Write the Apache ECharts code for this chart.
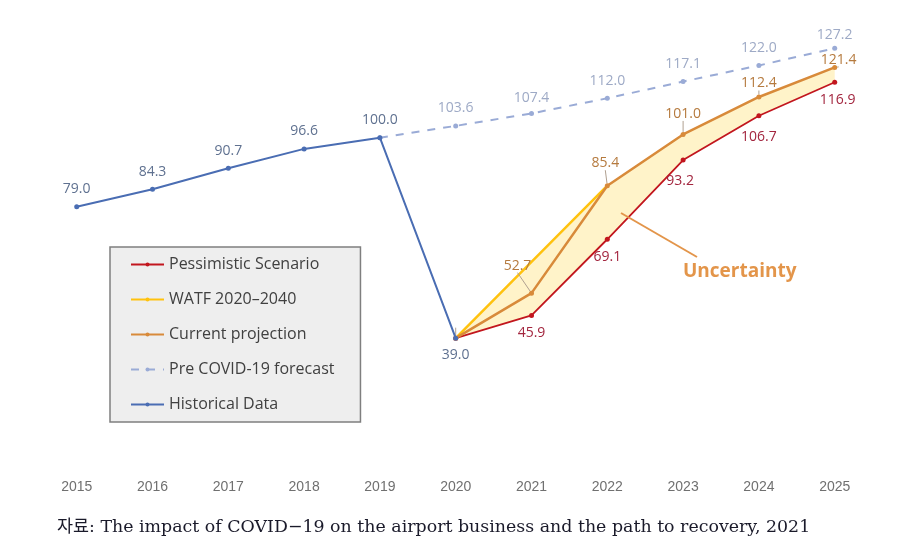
<!DOCTYPE html>
<html>
<head>
<meta charset="utf-8">
<script src="https://cdn.jsdelivr.net/npm/echarts@6/dist/echarts.min.js"></script>
<style>
html,body{margin:0;padding:0;background:#fff;}
#c{width:923px;height:553px;}
</style>
</head>
<body>
<div id="c"></div>
<script>
var years = ['2015','2016','2017','2018','2019','2020','2021','2022','2023','2024','2025'];
var historical = [79.0, 84.3, 90.7, 96.6, 100.0, 39.0, null, null, null, null, null];
var preCovid = [null, null, null, null, 100.0, 103.6, 107.4, 112.0, 117.1, 122.0, 127.2];
var pessimistic = [null, null, null, null, null, 39.0, 45.9, 69.1, 93.2, 106.7, 116.9];
var watf = [null, null, null, null, null, 39.0, 62.2, 85.4, null, null, null];
var current = [null, null, null, null, null, 39.0, 52.7, 85.4, 101.0, 112.4, 121.4];
var legendNames = ['Pessimistic Scenario', 'WATF 2020\u20132040', 'Current projection', 'Pre COVID-19 forecast', 'Historical Data'];
var caption = '\uC790\uB8CC: The impact of COVID\u221219 on the airport business and the path to recovery, 2021';

// band between upper envelope and pessimistic
var bandBase = pessimistic.map(function(v){ return v == null ? '-' : v; });
var bandHeight = pessimistic.map(function(v, i){
  if (v == null) return '-';
  var up = current[i];
  if (watf[i] != null && watf[i] > up) up = watf[i];
  return +(up - v).toFixed(2);
});
function d(a){ return a.map(function(v){ return v == null ? '-' : v; }); }

var F = 'Open Sans';
var cBlue = '#4a6db3', cPre = '#9aabd6', cRed = '#c2161e', cYel = '#ffc20e', cOra = '#d88a3a';

var chart = echarts.init(document.getElementById('c'), null, {renderer:'canvas'});
var option = {
  backgroundColor: '#fff',
  animation: false,
  grid: {left: 76.7, width: 758, top: 6.3, height: 460, containLabel: false},
  xAxis: {
    type: 'category', data: years, boundaryGap: false,
    axisLine: {show: false}, axisTick: {show: false}, splitLine: {show: false},
    axisLabel: {color: '#707070', fontSize: 14, fontFamily: 'Liberation Sans', margin: 14}
  },
  yAxis: {
    type: 'value', min: 0, max: 140, show: false
  },
  legend: {
    orient: 'vertical', left: 110, top: 247,
    data: legendNames,
    itemWidth: 33, itemHeight: 5, itemGap: 18,
    backgroundColor: '#eeeeee', borderColor: '#7f7f7f', borderWidth: 1.5,
    padding: [9, 26, 9, 20],
    textStyle: {fontFamily: F, fontSize: 16, color: '#404040', lineHeight: 17},
    selectedMode: false
  },
  series: [
    {name: 'bandBase', type: 'line', stack: 'band', data: bandBase, symbol: 'none',
     lineStyle: {opacity: 0}, silent: true, z: 1},
    {name: 'band', type: 'line', stack: 'band', data: bandHeight, symbol: 'none',
     lineStyle: {opacity: 0}, areaStyle: {color: '#fff3c9', opacity: 1}, silent: true, z: 1},
    {name: legendNames[1], type: 'line', data: d(watf), symbol: 'none', z: 3,
     lineStyle: {color: cYel, width: 2.5}, itemStyle: {color: cYel}},
    {name: legendNames[0], type: 'line', data: d(pessimistic), symbol: 'circle', symbolSize: 5, z: 4,
     lineStyle: {color: cRed, width: 1.8}, itemStyle: {color: cRed},
     label: {show: true, position: 'bottom', distance: 8, color: '#a3263f', fontFamily: F, fontSize: 14,
       formatter: function(p){ return p.dataIndex === 5 ? '' : p.value.toFixed(1); }},
     labelLayout: function(p){
       var i = p.dataIndex;
       if (i === 8) return {dx: -3, dy: 3};
       if (i === 9) return {dy: 4};
       if (i === 10) return {dx: 3};
       return {};
     }},
    {name: legendNames[2], type: 'line', data: d(current), symbol: 'circle', symbolSize: 5, z: 5,
     lineStyle: {color: cOra, width: 2.5}, itemStyle: {color: cOra},
     label: {show: true, position: 'top', distance: 8, color: '#b57a3e', fontFamily: F, fontSize: 14,
       formatter: function(p){ return p.dataIndex === 5 ? '' : p.value.toFixed(1); }},
     labelLine: {show: true, lineStyle: {color: '#b0a090', width: 1}},
     labelLayout: function(p){
       var i = p.dataIndex;
       if (i === 6) return {dx: -14, dy: -10};
       if (i === 7) return {dx: -2, dy: -5};
       if (i === 8) return {dx: 0, dy: -3};
       if (i === 9) return {dx: 0, dy: 4};
       if (i === 10) return {dx: 4, dy: 10};
       return {};
     }},
    {name: legendNames[3], type: 'line', data: d(preCovid), symbol: 'circle', symbolSize: 5, z: 2,
     lineStyle: {color: cPre, width: 2, type: [8, 8]}, itemStyle: {color: cPre},
     label: {show: true, position: 'top', distance: 8, color: '#9eaac6', fontFamily: F, fontSize: 14,
       formatter: function(p){ return p.dataIndex === 4 ? '' : p.value.toFixed(1); }},
     labelLayout: function(p){
       var i = p.dataIndex;
       if (i === 6) return {dy: 2};
       if (i === 10) return {dy: 4};
       return {};
     }},
    {name: legendNames[4], type: 'line', data: d(historical), symbol: 'circle', symbolSize: 5, z: 6,
     lineStyle: {color: cBlue, width: 2}, itemStyle: {color: cBlue},
     label: {show: true, position: 'top', distance: 8, color: '#5f7190', fontFamily: F, fontSize: 14,
       formatter: function(p){ return p.value.toFixed(1); }},
     labelLayout: function(p){ return p.dataIndex === 5 ? {dy: 34} : {}; }}
  ],
  graphic: [
    {type: 'line', shape: {x1: 697, y1: 257, x2: 621, y2: 213},
     style: {stroke: '#e3954a', lineWidth: 2}, z: 10},
    {type: 'text', left: 683, top: 262,
     style: {text: 'Uncertainty', fill: '#e3954a', font: 'bold 19px "Open Sans"'}, z: 10},
    {type: 'text', left: 57, top: 519,
     style: {text: caption, fill: '#1a1a2a', font: '17.4px "DejaVu Serif", "Noto Sans CJK KR"'}}
  ]
};
chart.setOption(option);
</script>
</body>
</html>
